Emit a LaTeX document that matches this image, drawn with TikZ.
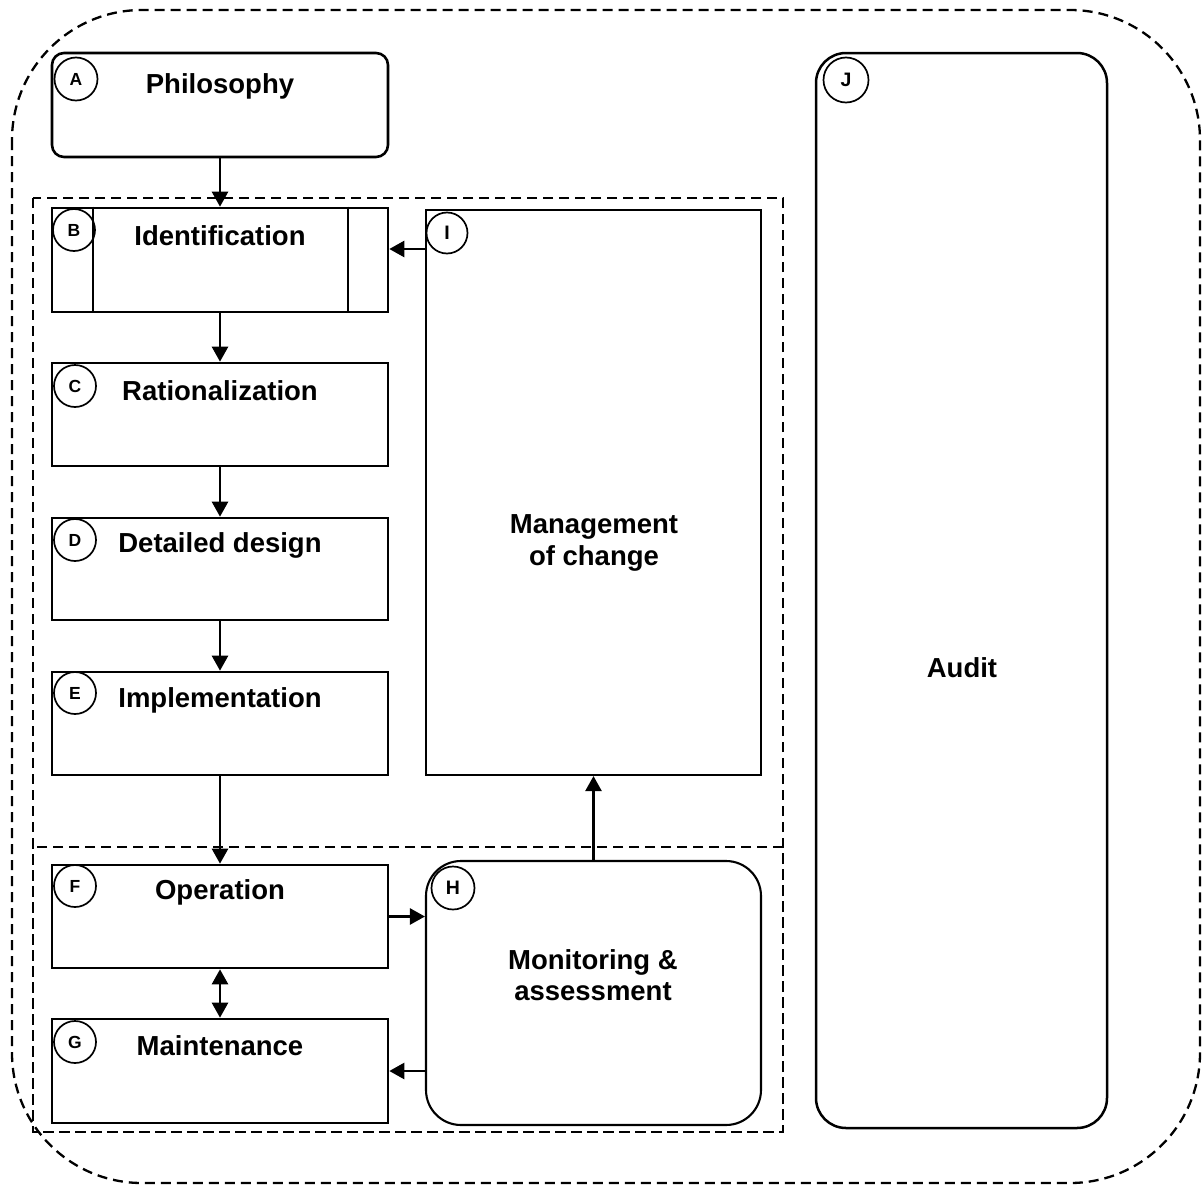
\documentclass[tikz,border=0pt]{standalone}
\usepackage{fontspec}
\setmainfont{Liberation Sans}
\usetikzlibrary{arrows.meta}
\begin{document}
\begin{tikzpicture}[x=1pt,y=-1pt,
  box/.style={draw,line width=2.6pt,inner sep=0pt,minimum width=336pt},
  thinbox/.style={draw,line width=2.1pt,inner sep=0pt},
  ttl/.style={font=\bfseries\fontsize{27.5}{31.5}\selectfont,anchor=base,inner sep=0pt},
  mtxt/.style={font=\bfseries\fontsize{27.5}{31.5}\selectfont,align=center,inner sep=0pt},
  lbl/.style={draw,circle,line width=1.7pt,minimum size=43pt,inner sep=0pt,font=\bfseries\fontsize{17.5}{19}\selectfont},
  lblb/.style={lbl,font=\bfseries\fontsize{19.5}{21}\selectfont},
  arr/.style={line width=2.5pt,-{Triangle[length=15pt,width=16pt]}},
  darr/.style={line width=2.5pt,{Triangle[length=15pt,width=16pt]}-{Triangle[length=15pt,width=16pt]}},
  dsh/.style={line width=2.6pt,dash pattern=on 10pt off 6pt}
]
\useasboundingbox (0,0) rectangle (1203,1186);
% dashed frames
\draw[dsh,line width=2.3pt,rounded corners=130pt] (12,10) rectangle (1200,1183);
\draw[dsh] (33,198) rectangle (783,1132);
\draw[dsh,dash phase=8pt] (33,847) rectangle (783,1132);
% boxes
\node[box,minimum height=104pt,rounded corners=12pt] (A) at (220,105) {};
\node[box,minimum height=104pt] (B) at (220,260) {};
\draw[line width=2.6pt] ([xshift=-127pt]B.north) -- ([xshift=-127pt]B.south);
\draw[line width=2.6pt] ([xshift=128pt]B.north) -- ([xshift=128pt]B.south);
\node[box,minimum height=103pt] (C) at (220,414.5) {};
\node[box,minimum height=102pt] (D) at (220,569) {};
\node[box,minimum height=103pt] (E) at (220,723.5) {};
\node[box,minimum height=103pt] (F) at (220,916.5) {};
\node[box,minimum height=104pt] (G) at (220,1071) {};
\node[thinbox,minimum width=335pt,minimum height=565pt] (I) at (593.5,492.5) {};
\node[thinbox,minimum width=335pt,minimum height=264pt,rounded corners=35pt] (H) at (593.5,993) {};
\node[thinbox,line width=2.5pt,minimum width=291pt,minimum height=1075pt,rounded corners=30pt] (J) at (961.5,590.5) {};
% titles
\node[ttl] (At) at (220,93) {Philosophy};
\node[ttl] (Bt) at (220,245) {Identification};
\node[ttl] (Ct) at (220,400) {Rationalization};
\node[ttl] (Dt) at (220,552) {Detailed design};
\node[ttl] (Et) at (220,707) {Implementation};
\node[ttl] (Ft) at (220,899) {Operation};
\node[ttl] (Gt) at (220,1055) {Maintenance};
\node[mtxt] (It) at (594,543) {Management\\of change};
\node[mtxt] (Ht) at (593,975) {Monitoring \&\\assessment};
\node[ttl] (Jt) at (962,677) {Audit};
% letter circles
\node[lbl] (la) at (76,79) {A};
\node[lbl,minimum size=42pt] (lb) at (74,230) {B};
\node[lbl,minimum size=42pt] (lc) at (75,386) {C};
\node[lbl,minimum size=42pt] (ld) at (75,540) {D};
\node[lbl,minimum size=42pt] (le) at (75,693) {E};
\node[lbl,minimum size=42pt] (lf) at (75,886) {F};
\node[lbl,minimum size=42pt] (lg) at (75,1042) {G};
\node[lblb] (lh) at (453,888) {H};
\node[lblb,minimum size=41pt] (li) at (447,233) {I};
\node[lblb,minimum size=45pt] (lj) at (846,80) {J};
% connectors
\draw[arr] (A.south) -- (B.north);
\draw[arr] (B.south) -- (C.north);
\draw[arr] (C.south) -- (D.north);
\draw[arr] (D.south) -- (E.north);
\draw[arr] (E.south) -- (F.north);
\draw[darr] (F.south) -- (G.north);
\path (I.west |- B.east) ++(0,-11) coordinate (ib);
\draw[arr] (ib) -- (ib -| B.east);
\draw[arr] (F.east) -- (F.east -| H.west);
\draw[arr] (H.west |- G.east) -- (G.east);
\draw[arr] (H.north) -- (I.south);
\end{tikzpicture}
\end{document}
